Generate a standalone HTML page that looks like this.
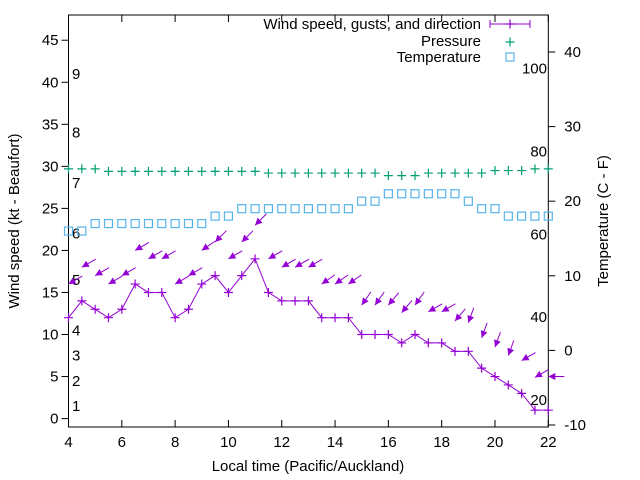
<!DOCTYPE html>
<html><head><meta charset="utf-8"><style>
html,body{margin:0;padding:0;background:#fff;}
svg{display:block;font-family:"Liberation Sans",sans-serif;}
</style></head><body>
<svg id="chart" width="640" height="480" viewBox="0 0 640 480" xmlns="http://www.w3.org/2000/svg"></svg>
<script>
const times=[4,4.5,5,5.5,6,6.5,7,7.5,8,8.5,9,9.5,10,10.5,11,11.5,12,12.5,13,13.5,14,14.5,15,15.5,16,16.5,17,17.5,18,18.5,19,19.5,20,20.5,21,21.5,22];
const windSpeed=[12,14,13,12,13,16,15,15,12,13,16,17,15,17,19,15,14,14,14,12,12,12,10,10,10,9,10,9,9,8,8,6,5,4,3,1,1];
const gusts=[16,18,17,16,17,20,19,19,16,17,20,21,19,21,23,19,18,18,18,16,16,16,13.5,13.5,13.5,12.6,13.5,12.7,12.7,11.6,11.4,9.6,8.5,7.5,6.9,4.9,5];
const windDir=[60,60,60,60,60,60,60,60,60,60,55,45,60,45,45,60,60,60,60,55,55,55,35,35,40,40,35,60,60,40,20,20,20,20,60,60,90];
const pressure=[29.7,29.7,29.7,29.4,29.4,29.4,29.4,29.4,29.4,29.4,29.4,29.4,29.4,29.4,29.4,29.2,29.2,29.2,29.2,29.2,29.2,29.2,29.2,29.2,28.9,28.9,28.9,29.2,29.2,29.2,29.2,29.2,29.5,29.5,29.5,29.7,29.7];
const temperature=[16,16,17,17,17,17,17,17,17,17,17,18,18,19,19,19,19,19,19,19,19,19,20,20,21,21,21,21,21,21,20,19,19,18,18,18,18];
const xTicks=[4,6,8,10,12,14,16,18,20,22];
const yTicks=[0,5,10,15,20,25,30,35,40,45];
const y2Ticks=[-10,0,10,20,30,40];
const beaufortLabels=["1","2","3","4","5","6","7","8","9"];
const beaufortY=[1.5,4.5,7.5,10.5,16.5,22,28,34,41];
const fLabels=["20","40","60","80","100"];
const fY=[2,12,22,32,42];

const L=68.5,R=548.3,T=15,B=427;
const X=v=>L+(v-4)/(22-4)*(R-L);
const Y=v=>B-(v+1)/49*(B-T);
const Y2=v=>52+(40-v)*7.46;
const NS="http://www.w3.org/2000/svg";
const svg=document.getElementById('chart');
function el(tag,attrs,parent){const e=document.createElementNS(NS,tag);for(const k in attrs)e.setAttribute(k,attrs[k]);(parent||svg).appendChild(e);return e;}
function txt(s,x,y,anchor,size,parent){const e=el('text',{x:x,y:y,'text-anchor':anchor,'font-size':size,fill:'#000'},parent);e.textContent=s;return e;}

// frame
const frame=el('rect',{x:L,y:T,width:R-L,height:B-T,fill:'none',stroke:'#000','stroke-width':1});


const xg=el('g',{});
xTicks.forEach(v=>{el('line',{x1:X(v),y1:B,x2:X(v),y2:B-7,stroke:'#000'},xg);el('line',{x1:X(v),y1:T,x2:X(v),y2:T+7,stroke:'#000'},xg);
 const t=txt(String(v),X(v),B+20,'middle',15,xg);});
const yg=el('g',{});
yTicks.forEach(v=>{el('line',{x1:L,y1:Y(v),x2:L-7,y2:Y(v),stroke:'#000'},yg);
 const t=txt(String(v),L-10,Y(v)+5,'end',15,yg);});
const y2g=el('g',{});
y2Ticks.forEach(v=>{el('line',{x1:R,y1:Y2(v),x2:R+7,y2:Y2(v),stroke:'#000'},y2g);
 const t=txt(String(v),R+16,Y2(v)+5,'start',15,y2g);});
beaufortLabels.forEach((s,i)=>{const t=txt(s,72,Y(beaufortY[i])+5,'start',15);});
fLabels.forEach((s,i)=>{const t=txt(s,547,Y2(fY[i]*0+((Number(s)-32)/1.8))+5,'end',15);});

let t1=txt('Local time (Pacific/Auckland)',308,471,'middle',15);
let t2=txt('Wind speed (kt - Beaufort)',0,0,'middle',15);t2.setAttribute('transform','translate(19,221) rotate(-90)');
let t3=txt('Temperature (C - F)',0,0,'middle',15);t3.setAttribute('transform','translate(608,221) rotate(-90)');

const C1='#9400d3',C2='#009e73',C3='#56b4e9';
function plus(x,y,c,g){el('path',{d:`M${x-4.5} ${y}H${x+4.5}M${x} ${y-4.5}V${y+4.5}`,stroke:c,'stroke-width':1.2,fill:'none'},g);}
// pressure
const pg=el('g',{});
pressure.forEach((v,i)=>plus(X(times[i]),Y(v),C2,pg));
// temperature
const tg=el('g',{});
temperature.forEach((v,i)=>el('rect',{x:X(times[i])-4,y:Y2(v)-4,width:8,height:8,fill:'none',stroke:C3,'stroke-width':1.2},tg));
// wind line
const wg=el('g',{});
el('polyline',{points:windSpeed.map((v,i)=>X(times[i])+','+Y(v)).join(' '),fill:'none',stroke:C1,'stroke-width':1},wg);
windSpeed.forEach((v,i)=>plus(X(times[i]),Y(v),C1,wg));
// gust arrows
const ag=el('g',{});
gusts.forEach((v,i)=>{const x=X(times[i]),y=Y(v),a=windDir[i]*Math.PI/180,len=16;
 const ux=Math.sin(a),uy=-Math.cos(a);const tx=x+ux*len,ty=y+uy*len;
 el('line',{x1:tx,y1:ty,x2:x,y2:y,stroke:C1,'stroke-width':1},ag);
 const hl=7,hw=3.5,bx=x+ux*hl,by=y+uy*hl,px=-uy,py=ux;
 el('polygon',{points:`${x},${y} ${bx+px*hw},${by+py*hw} ${bx-px*hw},${by-py*hw}`,fill:C1},ag);});

// legend
const lg=el('g',{});
let l1=txt('Wind speed, gusts, and direction',481,29,'end',15,lg);
el('line',{x1:490,y1:24,x2:530,y2:24,stroke:C1},lg);el('line',{x1:490,y1:20,x2:490,y2:28,stroke:C1},lg);el('line',{x1:530,y1:20,x2:530,y2:28,stroke:C1},lg);plus(510,24,C1,lg);
let l2=txt('Pressure',481,46,'end',15,lg);
plus(510,42,C2,lg);
let l3=txt('Temperature',481,62,'end',15,lg);
el('rect',{x:506,y:53,width:8,height:8,fill:'none',stroke:C3,'stroke-width':1.2},lg);
</script>
</body></html>
